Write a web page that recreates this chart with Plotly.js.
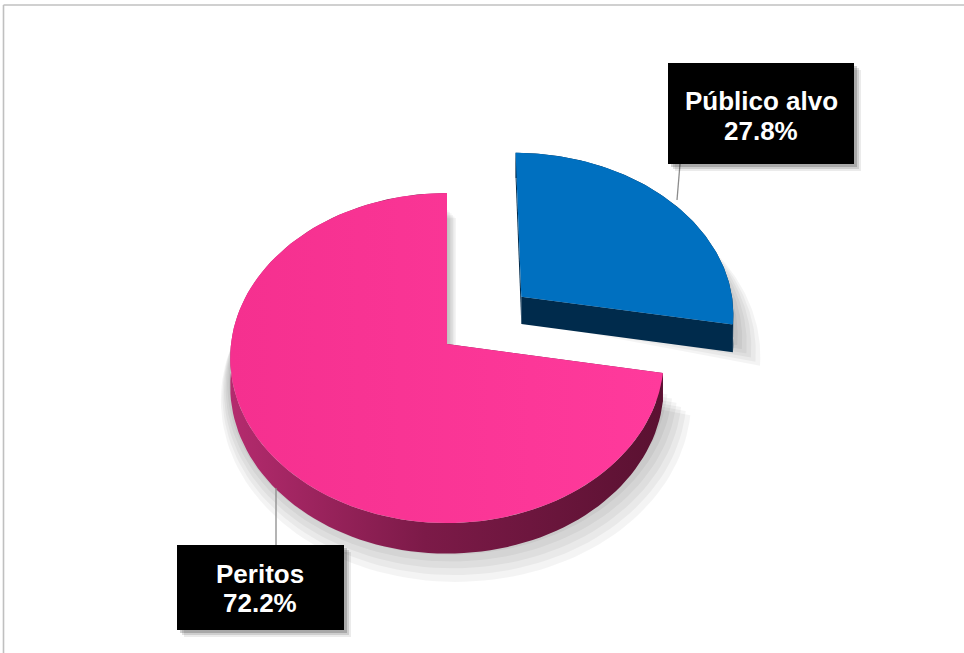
<!DOCTYPE html>
<html>
<head>
<meta charset="utf-8">
<script src="https://cdn.plot.ly/plotly-3.0.1.min.js"></script>
<style>html,body{margin:0;padding:0;background:#fff;}#chart{width:964px;height:653px;}</style>
</head>
<body>
<div id="chart"></div>
<script>
// ---- data ----
const categories = ['Público alvo', 'Peritos'];
const values = [27.8, 72.2];
const topColors = ['#0070c0', '#ff3399'];
const sideColors = ['#002b4c', '#7a1845'];
const pulls = [0.46, 0];

// ---- 3D pie projection (pixel space) ----
const CX = 447, CY = 344, RX = 216, RY = 163.8, K = 0.085, D = 28;
function proj(u, v, z) {
  const s = 1 / (1 - K * v);
  return [CX + RX * u * s, CY + RY * v * s + z * D * s];
}
const total = values.reduce((a, b) => a + b, 0);
const traces = [];
function poly(pts, fill, extra) {
  const t = {
    type: 'scatter', mode: 'lines', fill: 'toself',
    x: pts.map(p => p[0]), y: pts.map(p => p[1]),
    line: {width: 0, color: fill}, fillcolor: fill,
    hoverinfo: 'skip', showlegend: false
  };
  return Object.assign(t, extra || {});
}
function rimPoint(a, off, r, z) {
  return proj(off[0] + r * Math.sin(a), off[1] - r * Math.cos(a), z);
}

let acc = 0;
const slices = values.map((val, i) => {
  const a0 = acc / total * 2 * Math.PI;
  acc += val;
  const a1 = acc / total * 2 * Math.PI;
  const mid = (a0 + a1) / 2;
  const off = [pulls[i] * Math.sin(mid), -pulls[i] * Math.cos(mid)];
  return {i, a0, a1, off};
});

function arc(sl, r, z, rev) {
  const n = 120, pts = [];
  for (let k = 0; k <= n; k++) {
    const a = sl.a0 + (sl.a1 - sl.a0) * k / n;
    pts.push(rimPoint(a, sl.off, r, z));
  }
  return rev ? pts.reverse() : pts;
}

// soft shadows
slices.forEach(sl => {
  for (let j = 1; j <= 6; j++) {
    const r = 1 + 0.014 * j;
    const apex = proj(sl.off[0], sl.off[1], 0.6);
    const pts = [apex].concat(arc(sl, r, 0.6 + 0.08 * j)).concat([apex]);
    traces.push(poly(pts.map(p => [p[0] + 1.5 * j, p[1] + 1.5 * j]), 'rgba(0,0,0,0.045)'));
  }
});

// draw order: blue (pulled, behind) then pink
[0, 1].forEach(idx => {
  const sl = slices[idx];
  [sl.a0, sl.a1].forEach(a => {
    const at = proj(sl.off[0], sl.off[1], 0), ab = proj(sl.off[0], sl.off[1], 1);
    const rt = rimPoint(a, sl.off, 1, 0), rb = rimPoint(a, sl.off, 1, 1);
    traces.push(poly([at, rt, rb, ab, at], sideColors[idx]));
  });
  const wall = arc(sl, 1, 0, false).concat(arc(sl, 1, 1, true));
  wall.push(wall[0]);
  const wallExtra = idx === 1 ? {fillgradient: {type: 'horizontal',
    colorscale: [[0, '#b42b6e'], [0.45, '#7c1a48'], [1, '#5a1131']]}} : {};
  traces.push(poly(wall, sideColors[idx], wallExtra));
  const apex = proj(sl.off[0], sl.off[1], 0);
  const top = [apex].concat(arc(sl, 1, 0, false)).concat([apex]);
  const topExtra = idx === 1 ? {fillgradient: {type: 'horizontal',
    colorscale: [[0, '#f5308f'], [1, '#ff3a9c']]}} : {};
  traces.push(poly(top, topColors[idx], topExtra));
});

// ---- labels ----
const line1 = categories;
const line2 = values.map(v => v.toFixed(1) + '%');
const boxes = [
  {x0: 668, x1: 854, y0: 63, y1: 164, cx: 761, ya: 100, yb: 129.5, lx0: 680, ly0: 164, lx1: 677, ly1: 200},
  {x0: 177, x1: 344, y0: 545, y1: 630, cx: 259.5, ya: 573, yb: 602, lx0: 276, ly0: 488, lx1: 276, ly1: 545}
];
const shapes = [
  {type: 'line', xref: 'x', yref: 'y', x0: 3.5, x1: 964, y0: 5, y1: 5, line: {color: '#c0c0c0', width: 1.6}},
  {type: 'line', xref: 'x', yref: 'y', x0: 3.5, x1: 3.5, y0: 5, y1: 653, line: {color: '#c0c0c0', width: 1.6}}
];
const annotations = [];
const font = {family: 'Liberation Sans, Arial, sans-serif', size: 26, color: '#ffffff'};
boxes.forEach((b, i) => {
  shapes.push({type: 'line', xref: 'x', yref: 'y', x0: b.lx0, y0: b.ly0, x1: b.lx1, y1: b.ly1,
    line: {color: '#8c8c8c', width: 1.3}, layer: 'above'});
  [[7, 0.08], [5, 0.12], [3, 0.18]].forEach(([o, a]) => {
    shapes.push({type: 'rect', xref: 'x', yref: 'y', x0: b.x0 + o, x1: b.x1 + o, y0: b.y0 + o, y1: b.y1 + o,
      fillcolor: 'rgba(0,0,0,' + a + ')', line: {width: 0}, layer: 'above'});
  });
  shapes.push({type: 'rect', xref: 'x', yref: 'y', x0: b.x0, x1: b.x1, y0: b.y0, y1: b.y1,
    fillcolor: '#000000', line: {width: 0}, layer: 'above'});
  annotations.push({xref: 'x', yref: 'y', x: b.cx, y: b.ya + 1, text: '<b>' + line1[i] + '</b>',
    showarrow: false, xanchor: 'center', yanchor: 'middle', font: font});
  annotations.push({xref: 'x', yref: 'y', x: b.cx, y: b.yb + 1, text: '<b>' + line2[i] + '</b>',
    showarrow: false, xanchor: 'center', yanchor: 'middle', font: font});
});

const layout = {
  width: 964, height: 653,
  margin: {l: 0, r: 0, t: 0, b: 0},
  paper_bgcolor: '#ffffff', plot_bgcolor: '#ffffff',
  xaxis: {range: [0, 964], visible: false, fixedrange: true},
  yaxis: {range: [653, 0], visible: false, fixedrange: true},
  showlegend: false,
  shapes: shapes,
  annotations: annotations
};
Plotly.newPlot('chart', traces, layout, {displayModeBar: false, staticPlot: true});
</script>
</body>
</html>
